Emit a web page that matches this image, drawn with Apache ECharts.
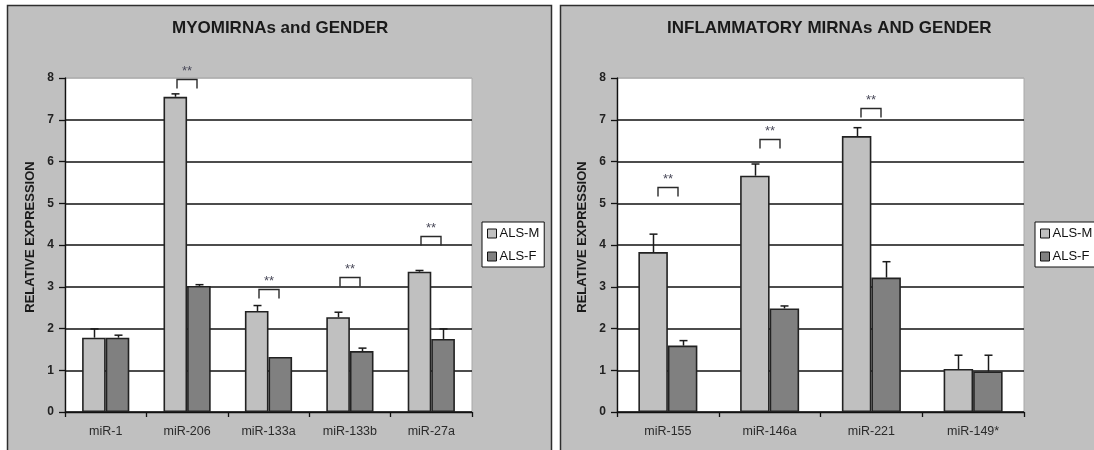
<!DOCTYPE html>
<html>
<head>
<meta charset="utf-8">
<script src="https://cdn.jsdelivr.net/npm/echarts@6/dist/echarts.min.js"></script>
<style>
html,body{margin:0;padding:0;background:#fff;}
#chart{width:1094px;height:450px;}
</style>
</head>
<body>
<div id="chart"></div>
<script>
// ---------- data ----------
var leftTitle = 'MYOMIRNAs and GENDER';
var rightTitle = 'INFLAMMATORY MIRNAs AND GENDER';
var yAxisName = 'RELATIVE EXPRESSION';
var seriesNames = ['ALS-M', 'ALS-F'];

var leftCategories = ['miR-1', 'miR-206', 'miR-133a', 'miR-133b', 'miR-27a'];
var leftM    = [1.78, 7.55, 2.42, 2.27, 3.36];
var leftMErr = [0.21, 0.07, 0.13, 0.12, 0.03];
var leftF    = [1.78, 3.02, 1.32, 1.46, 1.75];
var leftFErr = [0.06, 0.03, 0.00, 0.07, 0.24];
var leftSig  = [null, 7.98, 2.94, 3.23, 4.22];

var rightCategories = ['miR-155', 'miR-146a', 'miR-221', 'miR-149*'];
var rightM    = [3.83, 5.66, 6.61, 1.03];
var rightMErr = [0.43, 0.28, 0.20, 0.33];
var rightF    = [1.59, 2.48, 3.22, 0.97];
var rightFErr = [0.12, 0.06, 0.38, 0.39];
var rightSig  = [5.38, 6.53, 7.29, null];

var sigLabel = '**';
var yTicks = [0, 1, 2, 3, 4, 5, 6, 7, 8];

// ---------- helpers ----------
var FONT = '"Liberation Sans", Arial, sans-serif';
var CAT_GAP = 0.42;

function errData(vals, errs) {
  return vals.map(function (v, i) { return [i, v, v + errs[i]]; });
}
function sigData(sig) {
  var out = [];
  sig.forEach(function (v, i) { if (v != null) out.push([i, v]); });
  return out;
}
function errRender(side) {
  return function (params, api) {
    var i = api.value(0);
    if (api.value(2) <= api.value(1)) return null;
    var band = api.size([1, 0])[0];
    var bw = band * (1 - CAT_GAP) / 2;
    var p0 = api.coord([i, api.value(1)]);
    var p1 = api.coord([i, api.value(2)]);
    var x = Math.round(p0[0] + side * bw / 2) + 0.5;
    var st = { stroke: '#1a1a1a', lineWidth: 1.5 };
    return {
      type: 'group',
      children: [
        { type: 'line', shape: { x1: x, y1: p0[1], x2: x, y2: p1[1] }, style: st },
        { type: 'line', shape: { x1: x - 4, y1: p1[1], x2: x + 4, y2: p1[1] }, style: st }
      ]
    };
  };
}
function sigRender(params, api) {
  var i = api.value(0);
  var p = api.coord([i, api.value(1)]);
  var x = Math.round(p[0]), y = Math.round(p[1]) + 0.5;
  var w = 10;
  return {
    type: 'group',
    children: [
      { type: 'polyline', shape: { points: [[x - w, y + 9], [x - w, y], [x + w, y], [x + w, y + 9]] },
        style: { stroke: '#2a2a2a', lineWidth: 1.4, fill: null } },
      { type: 'text', style: { text: sigLabel, x: x, y: y - 8, align: 'center', verticalAlign: 'middle',
        font: '13px ' + FONT, fill: '#4a4a5a' } }
    ]
  };
}

function xAxisCfg(cats, gi) {
  return {
    type: 'category', gridIndex: gi, data: cats,
    axisLine: { lineStyle: { color: '#111', width: 1.4 } },
    axisTick: { show: true, length: 5, lineStyle: { color: '#111', width: 1.3 } },
    axisLabel: { color: '#2a2a2a', fontSize: 12.5, fontFamily: FONT, margin: 13 }
  };
}
function yAxisCfg(gi) {
  return {
    type: 'value', gridIndex: gi, min: 0, max: 8, interval: 1,
    name: yAxisName, nameLocation: 'middle', nameGap: 28,
    nameTextStyle: { fontSize: 13, fontWeight: 'bold', color: '#1a1a1a', fontFamily: FONT, padding: [0, 0, 0, 16] },
    axisLine: { show: true, lineStyle: { color: '#111', width: 1.4 } },
    axisTick: { show: true, length: 6, lineStyle: { color: '#111', width: 1.3 } },
    axisLabel: { color: '#222', fontSize: 12, fontWeight: 'bold', fontFamily: FONT, margin: 11,
      formatter: function (v) { return yTicks.indexOf(v) >= 0 ? String(v) : ''; } },
    splitLine: { show: true, lineStyle: { color: ['#111', '#111', '#111', '#111', '#111', '#111', '#111', '#111', '#b0b0b0'], width: 1.5 } }
  };
}
function barSeries(name, vals, color, gi) {
  return {
    type: 'bar', name: name, xAxisIndex: gi, yAxisIndex: gi, data: vals,
    barGap: '0%', barCategoryGap: (CAT_GAP * 100) + '%',
    itemStyle: { color: color, borderColor: '#222', borderWidth: 1.6 },
    emphasis: { disabled: true }, z: 2
  };
}
function errSeries(name, vals, errs, side, gi) {
  return {
    type: 'custom', name: name, xAxisIndex: gi, yAxisIndex: gi,
    data: errData(vals, errs), renderItem: errRender(side), clip: false, z: 3,
    encode: { x: 0, y: 2 }, tooltip: { show: false }
  };
}
function sigSeries(sig, gi) {
  return {
    type: 'custom', name: 'sig' + gi, xAxisIndex: gi, yAxisIndex: gi,
    data: sigData(sig), renderItem: sigRender, clip: false, z: 4,
    encode: { x: 0, y: 1 }
  };
}
function legendCfg(left) {
  return {
    data: seriesNames, orient: 'vertical', left: left, top: 222,
    backgroundColor: '#fff', borderColor: '#111', borderWidth: 1,
    padding: [5, 5, 4, 5], itemGap: 10, itemWidth: 9, itemHeight: 9, icon: 'rect',
    itemStyle: { borderColor: '#111', borderWidth: 1 },
    textStyle: { fontSize: 13, color: '#111', fontFamily: FONT, padding: [0, 0, 0, -2] }
  };
}

var chart = echarts.init(document.getElementById('chart'), null, { renderer: 'canvas' });
chart.setOption({
  backgroundColor: '#ffffff',
  animation: false,
  textStyle: { fontFamily: FONT },
  graphic: [
    { type: 'rect', z: -10, shape: { x: 7.5, y: 5.5, width: 544, height: 470 },
      style: { fill: '#c0c0c0', stroke: '#2e2e2e', lineWidth: 1.5 } },
    { type: 'rect', z: -10, shape: { x: 560.5, y: 5.5, width: 545, height: 470 },
      style: { fill: '#c0c0c0', stroke: '#2e2e2e', lineWidth: 1.5 } }
  ],
  title: [
    { text: leftTitle, left: 172, top: 20, padding: 0,
      textStyle: { fontSize: 17, fontWeight: 'bold', color: '#1a1a1a', fontFamily: FONT } },
    { text: rightTitle, left: 667, top: 20, padding: 0,
      textStyle: { fontSize: 17, fontWeight: 'bold', color: '#1a1a1a', fontFamily: FONT } }
  ],
  legend: [legendCfg(482), legendCfg(1035)],
  grid: [
    { left: 65, top: 78, width: 407, height: 334, show: true, backgroundColor: '#fff', borderColor: '#a8a8a8', borderWidth: 1 },
    { left: 617, top: 78, width: 407, height: 334, show: true, backgroundColor: '#fff', borderColor: '#a8a8a8', borderWidth: 1 }
  ],
  xAxis: [xAxisCfg(leftCategories, 0), xAxisCfg(rightCategories, 1)],
  yAxis: [yAxisCfg(0), yAxisCfg(1)],
  series: [
    barSeries(seriesNames[0], leftM, '#c0c0c0', 0),
    barSeries(seriesNames[1], leftF, '#808080', 0),
    errSeries(seriesNames[0] + ' err', leftM, leftMErr, -1, 0),
    errSeries(seriesNames[1] + ' err', leftF, leftFErr, 1, 0),
    sigSeries(leftSig, 0),
    barSeries(seriesNames[0], rightM, '#c0c0c0', 1),
    barSeries(seriesNames[1], rightF, '#808080', 1),
    errSeries(seriesNames[0] + ' err', rightM, rightMErr, -1, 1),
    errSeries(seriesNames[1] + ' err', rightF, rightFErr, 1, 1),
    sigSeries(rightSig, 1)
  ]
});
</script>
</body>
</html>
